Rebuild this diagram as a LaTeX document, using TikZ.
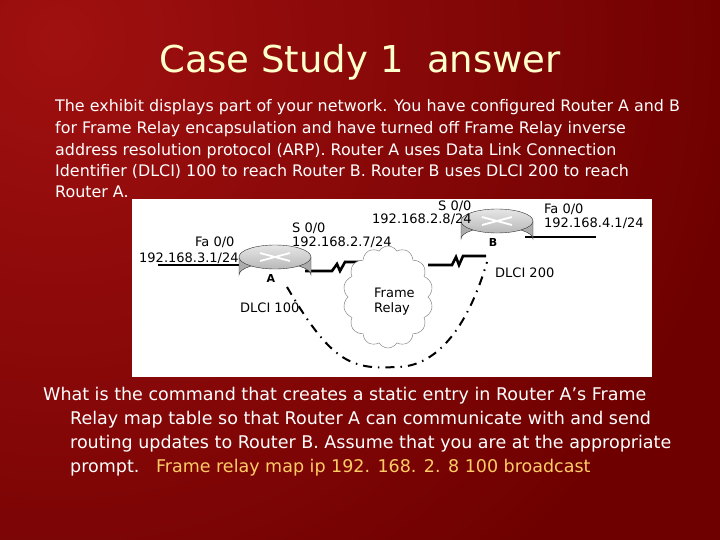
\documentclass[tikz,border=0pt]{standalone}
\usepackage{fontspec}
\setmainfont{DejaVu Sans}
\usetikzlibrary{shapes.symbols}
\definecolor{bgA}{HTML}{A01010}
\definecolor{bgB}{HTML}{6E0000}
\definecolor{ttl}{HTML}{FFFFCC}
\definecolor{ans}{HTML}{FFCC66}
\begin{document}
\begin{tikzpicture}[x=1pt,y=-1pt,
  body/.style={anchor=base west,text=white,font=\fontsize{15.9}{18}\selectfont,inner sep=0},
  qtxt/.style={anchor=base west,text=white,font=\fontsize{17.5}{20}\selectfont,inner sep=0},
  lab/.style={anchor=base west,text=black,font=\fontsize{13}{14}\selectfont,inner sep=0},
  link/.style={line width=2.6pt,black},
  dd/.style={line width=2pt,dash pattern=on 9pt off 6pt on 1.5pt off 6pt}]
\useasboundingbox (0,0) rectangle (720,540);
\fill[bgB] (0,0) rectangle (720,540);
\begin{scope}
\clip (0,0) rectangle (720,540);
\shade[inner color=bgA,outer color=bgB] (60,40) circle[radius=700];
\end{scope}
\node[text=ttl,font=\fontsize{37}{40}\selectfont,anchor=base] (title) at (360,73) {Case Study 1\ \ answer};
\node[body] (l1) at (55,112) {The exhibit displays part of your network. You have configured Router A and B};
\node[body] (l2) at (55,134) {for Frame Relay encapsulation and have turned off Frame Relay inverse};
\node[body] (l3) at (55,156) {address resolution protocol (ARP). Router A uses Data Link Connection};
\node[body] (l4) at (55,177) {Identifier (DLCI) 100 to reach Router B. Router B uses DLCI 200 to reach};
\node[body] (l5) at (55,198) {Router A.};
\fill[white] (132,199) rectangle (652,377);
\coordinate (fa1) at (158,265);
\coordinate (fa2) at (596,237);
\draw[link] (fa1) -- (245,265);
\draw[link] (305,271) -- (332,271) -- (337,264) -- (340,271) -- (345,262) -- (362,262);
\draw[link] (428,265) -- (452,265) -- (456,257) -- (459,265) -- (463,256) -- (486,256);
\draw[link] (525,237) -- (fa2);
\node[cloud,draw=black!55,fill=white,cloud puffs=14,cloud puff arc=120,minimum width=90pt,minimum height=102pt,aspect=0.9] (fr) at (388,297) {};
\node[lab] (frl1) at (374,297) {Frame};
\node[lab] (frl2) at (374,312) {Relay};
\foreach \n/\cx/\cy in {A/275/257,B/497/221}{
  \fill[gray!65,draw=gray!40!black,line width=.4pt] (\cx-36,\cy) -- (\cx-36,\cy+18) arc[start angle=180,end angle=360,x radius=36,y radius=12] -- (\cx+36,\cy) -- cycle;
  \shade[top color=gray!20,bottom color=gray!55,draw=gray!40!black,line width=.4pt] (\cx,\cy) ellipse[x radius=36,y radius=12];
  \draw[white,line width=1.8pt] (\cx-15,\cy-4) -- (\cx+15,\cy+4) (\cx-15,\cy+4) -- (\cx+15,\cy-4);
  \node[font=\bfseries\fontsize{11}{12}\selectfont,inner sep=0] (r\n) at (\cx-4,\cy+21) {\n};
}
\draw[dd] (287,287) .. controls (330,360) and (350,370) .. (395,367) .. controls (440,368) and (470,320) .. (487,262);
\node[lab] (a1) at (195,247) {Fa 0/0};
\node[lab] (a2) at (139,262) {192.168.3.1/24};
\node[lab] (a3) at (292,233) {S 0/0};
\node[lab] (a4) at (292,246) {192.168.2.7/24};
\node[lab] (b1) at (438,211) {S 0/0};
\node[lab] (b2) at (372,224) {192.168.2.8/24};
\node[lab] (b3) at (544,214) {Fa 0/0};
\node[lab] (b4) at (544,228) {192.168.4.1/24};
\node[lab] (d1) at (240,312) {DLCI 100};
\node[lab] (d2) at (495,277) {DLCI 200};
\node[qtxt] (q1) at (43,400) {What is the command that creates a static entry in Router A's Frame};
\node[qtxt] (q2) at (70,424) {Relay map table so that Router A can communicate with and send};
\node[qtxt] (q3) at (70,448) {routing updates to Router B. Assume that you are at the appropriate};
\node[qtxt] (q4) at (70,472) {prompt.\ \ \ \textcolor{ans}{Frame relay map ip 192. 168. 2. 8 100 broadcast}};
\end{tikzpicture}
\end{document}
